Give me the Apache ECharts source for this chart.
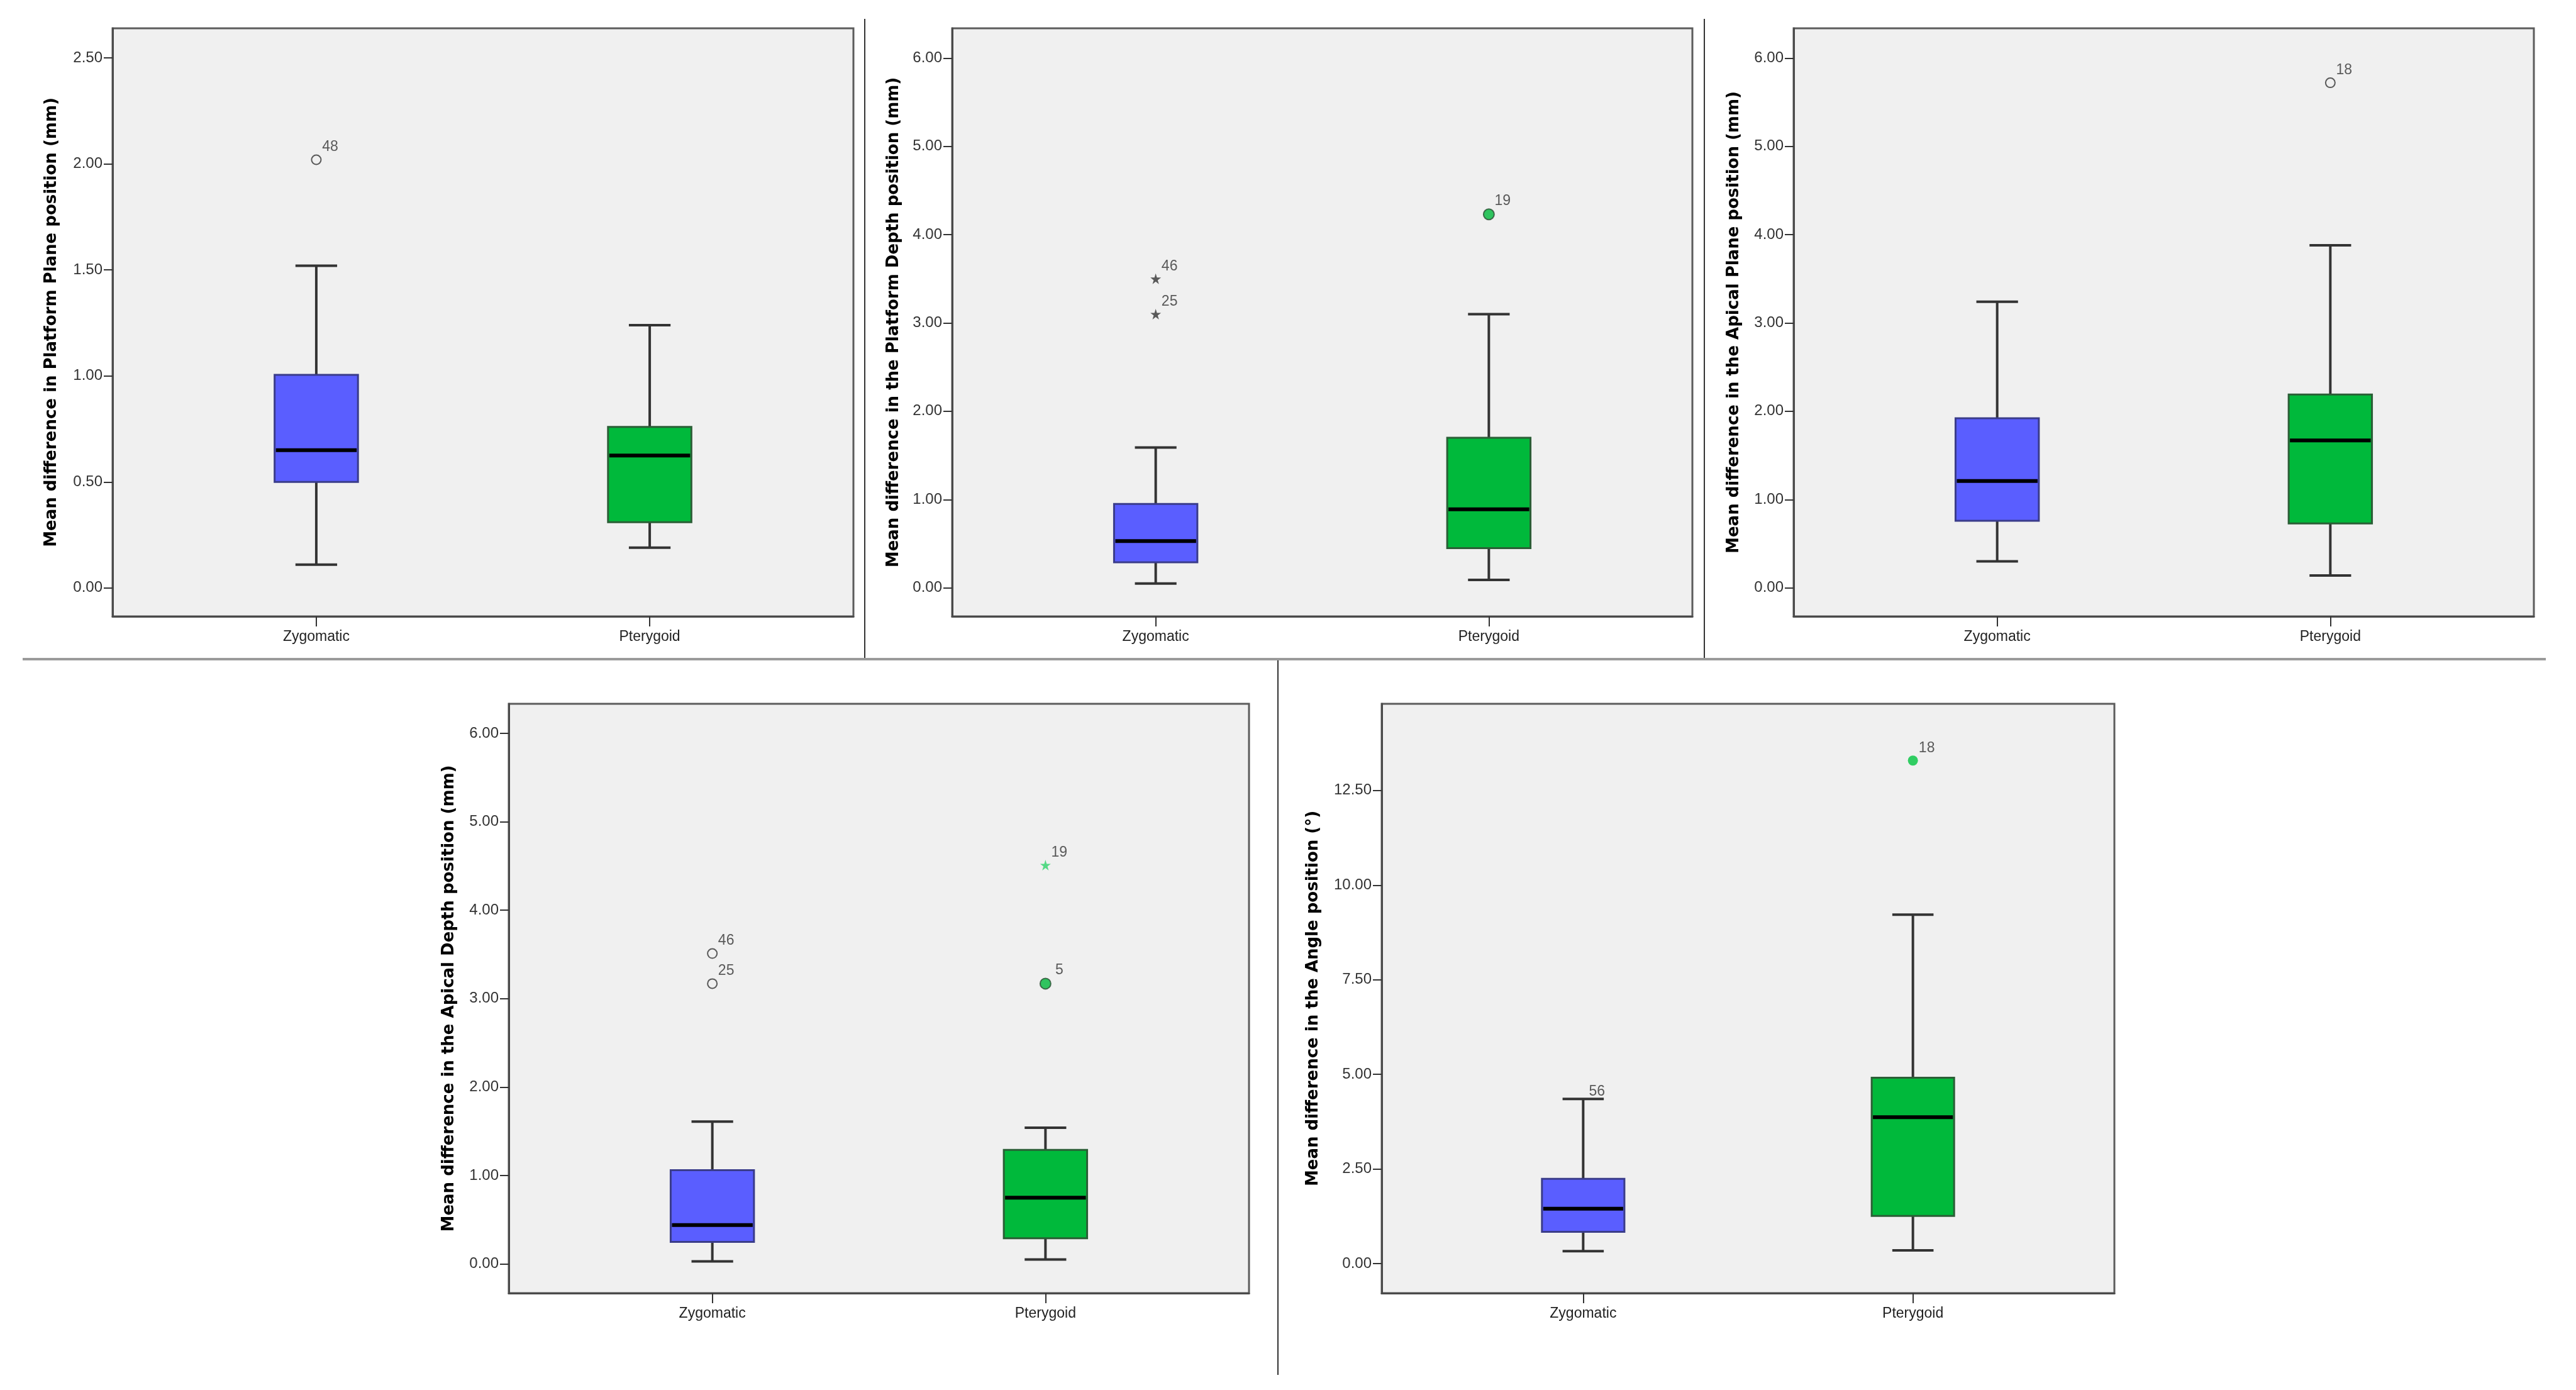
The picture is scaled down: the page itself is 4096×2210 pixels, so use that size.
<!DOCTYPE html>
<html lang="en" style="height: 100%">
<head>
  <meta charset="utf-8">
</head>
<body style="height: 100%; margin: 0; background: #fff">
  <div id="container" style="height: 100%"></div>

  <script type="text/javascript" src="https://cdn.jsdelivr.net/npm/echarts@6/dist/echarts.min.js"></script>
  <script type="text/javascript">
    // groups on the x axis
    var categories = ['Zygomatic', 'Pterygoid'];

    // five-number summaries per group: [lower whisker, Q1, median, Q3, upper whisker]
    var platformPlane = [[0.11, 0.50, 0.65, 1.005, 1.52], [0.19, 0.31, 0.625, 0.76, 1.24]];
    var platformDepth = [[0.05, 0.29, 0.53, 0.95, 1.59], [0.09, 0.45, 0.89, 1.70, 3.10]];
    var apicalPlane   = [[0.30, 0.76, 1.21, 1.92, 3.24], [0.14, 0.73, 1.67, 2.19, 3.88]];
    var apicalDepth   = [[0.03, 0.25, 0.44, 1.06, 1.61], [0.05, 0.29, 0.75, 1.29, 1.54]];
    var anglePos      = [[0.33, 0.84, 1.45, 2.24, 4.35], [0.35, 1.26, 3.87, 4.91, 9.22]];

    // outliers: [group (1 or 2), value, case label, marker kind]
    var platformPlaneOut = [[1, 2.02, '48', 'open']];
    var platformDepthOut = [[1, 3.50, '46', 'star'], [1, 3.10, '25', 'star'], [2, 4.23, '19', 'dot']];
    var apicalPlaneOut   = [[2, 5.72, '18', 'open']];
    var apicalDepthOut   = [[1, 3.51, '46', 'open'], [1, 3.17, '25', 'open'], [2, 4.51, '19', 'greenStar'], [2, 3.17, '5', 'dot']];
    var anglePosOut      = [[1, 4.35, '56', 'none'], [2, 13.29, '18', 'greenDot']];

    // y tick labels
    var ticksPlane = [0, 0.5, 1, 1.5, 2, 2.5];
    var ticksSix = [0, 1, 2, 3, 4, 5, 6];
    var ticksAngle = [0, 2.5, 5, 7.5, 10, 12.5];

    var titles = [
      'Mean difference in Platform Plane position (mm)',
      'Mean difference in the Platform Depth position (mm)',
      'Mean difference in the Apical Plane position (mm)',
      'Mean difference in the Apical Depth position (mm)',
      'Mean difference in the Angle position (°)'
    ];

    var dom = document.getElementById('container');
    var myChart = echarts.init(dom, null, { renderer: 'canvas' });

    var SANS = "'Liberation Sans', Arial, sans-serif";
    var boxFill = ['#5a5eff', '#00b93b'];
    var boxEdge = ['#3a3c8a', '#2b5e36'];
    var BOX_W = 0.25;
    var STAR = 'path://M50,0 L61,35 L98,35 L68,57 L79,91 L50,70 L21,91 L32,57 L2,35 L39,35 Z';

    var panels = [
      { box: platformPlane, out: platformPlaneOut, ticks: ticksPlane, ymin: -0.134, ymax: 2.64, grid: { left: 179, top: 45, width: 1178, height: 935 }, gap: 84 },
      { box: platformDepth, out: platformDepthOut, ticks: ticksSix, ymin: -0.323, ymax: 6.337, grid: { left: 1514, top: 45, width: 1177, height: 935 }, gap: 80 },
      { box: apicalPlane, out: apicalPlaneOut, ticks: ticksSix, ymin: -0.323, ymax: 6.337, grid: { left: 2852, top: 45, width: 1177, height: 935 }, gap: 82 },
      { box: apicalDepth, out: apicalDepthOut, ticks: ticksSix, ymin: -0.33, ymax: 6.334, grid: { left: 809, top: 1119, width: 1177, height: 937 }, gap: 82 },
      { box: anglePos, out: anglePosOut, ticks: ticksAngle, ymin: -0.78, ymax: 14.79, grid: { left: 2197, top: 1119, width: 1165, height: 937 }, gap: 96 }
    ];

    function markerItem(o) {
      var item = { value: [o[0], o[1]], name: o[2] };
      if (o[3] === 'open') {
        item.symbol = 'circle'; item.symbolSize = 15;
        item.itemStyle = { color: '#f0f0f0', borderColor: '#333', borderWidth: 2 };
      } else if (o[3] === 'star') {
        item.symbol = STAR; item.symbolSize = 17;
        item.itemStyle = { color: '#333' };
      } else if (o[3] === 'greenStar') {
        item.symbol = STAR; item.symbolSize = 17;
        item.itemStyle = { color: '#2fd36a' };
      } else if (o[3] === 'dot') {
        item.symbol = 'circle'; item.symbolSize = 17;
        item.itemStyle = { color: '#00b93b', borderColor: '#2b4f33', borderWidth: 2 };
      } else if (o[3] === 'greenDot') {
        item.symbol = 'circle'; item.symbolSize = 16;
        item.itemStyle = { color: '#00c43f' };
      } else {
        item.symbol = 'circle'; item.symbolSize = 1;
        item.itemStyle = { color: 'rgba(0,0,0,0)' };
      }
      return item;
    }

    function renderBox(params, api) {
      var x = api.value(0);
      var low = api.coord([x, api.value(1)]);
      var q1 = api.coord([x, api.value(2)]);
      var med = api.coord([x, api.value(3)]);
      var q3 = api.coord([x, api.value(4)]);
      var high = api.coord([x, api.value(5)]);
      var bw = api.size([BOX_W, 0])[0];
      var cw = bw / 2;
      var cx = med[0];
      var i = params.dataIndex;
      var line = { stroke: '#333', lineWidth: 4 };
      return {
        type: 'group',
        children: [
          { type: 'line', shape: { x1: cx, y1: low[1], x2: cx, y2: q1[1] }, style: line },
          { type: 'line', shape: { x1: cx, y1: q3[1], x2: cx, y2: high[1] }, style: line },
          { type: 'line', shape: { x1: cx - cw / 2, y1: low[1], x2: cx + cw / 2, y2: low[1] }, style: line },
          { type: 'line', shape: { x1: cx - cw / 2, y1: high[1], x2: cx + cw / 2, y2: high[1] }, style: line },
          { type: 'rect', shape: { x: cx - bw / 2, y: q3[1], width: bw, height: q1[1] - q3[1] },
            style: { fill: boxFill[i], stroke: boxEdge[i], lineWidth: 3 } },
          { type: 'line', shape: { x1: cx - bw / 2 + 2, y1: med[1], x2: cx + bw / 2 - 2, y2: med[1] },
            style: { stroke: '#000', lineWidth: 6 } }
        ]
      };
    }

    var option = {
      backgroundColor: '#fff',
      animation: false,
      grid: [], xAxis: [], yAxis: [], series: [],
      graphic: [
        { type: 'line', shape: { x1: 36, y1: 1048, x2: 4048, y2: 1048 }, style: { stroke: '#9a9a9a', lineWidth: 4 } },
        { type: 'line', shape: { x1: 1375, y1: 30, x2: 1375, y2: 1046 }, style: { stroke: '#333', lineWidth: 2 } },
        { type: 'line', shape: { x1: 2710, y1: 30, x2: 2710, y2: 1046 }, style: { stroke: '#333', lineWidth: 2 } },
        { type: 'line', shape: { x1: 2032, y1: 1050, x2: 2032, y2: 2186 }, style: { stroke: '#333', lineWidth: 2 } }
      ]
    };

    panels.forEach(function (p, k) {
      option.grid.push({
        left: p.grid.left, top: p.grid.top, width: p.grid.width, height: p.grid.height,
        show: true, backgroundColor: '#f0f0f0', borderColor: '#5c5c5c', borderWidth: 3
      });
      option.xAxis.push({
        type: 'value', gridIndex: k, min: 0.389, max: 2.611,
        axisLine: { show: true, onZero: false, lineStyle: { color: '#4a4a4a', width: 3 } },
        axisTick: { show: true, customValues: [1, 2], length: 16, lineStyle: { color: '#333', width: 2 } },
        axisLabel: {
          customValues: [1, 2], margin: 21, color: '#222', fontFamily: SANS, fontSize: 23,
          formatter: function (v) { return categories[Math.round(v) - 1]; }
        },
        splitLine: { show: false }
      });
      option.yAxis.push({
        type: 'value', gridIndex: k, min: p.ymin, max: p.ymax,
        name: titles[k], nameLocation: 'middle', nameGap: p.gap,
        nameTextStyle: { fontFamily: 'DejaVu Sans', fontWeight: 'bold', fontSize: 26, color: '#000' },
        axisLine: { show: true, lineStyle: { color: '#4a4a4a', width: 3 } },
        axisTick: { show: true, customValues: p.ticks, length: 14, lineStyle: { color: '#333', width: 2 } },
        axisLabel: {
          customValues: p.ticks, margin: 16, color: '#333', fontFamily: SANS, fontSize: 24,
          formatter: function (v) { return v.toFixed(2); }
        },
        splitLine: { show: false }
      });
      option.series.push({
        type: 'custom', xAxisIndex: k, yAxisIndex: k, clip: false,
        renderItem: renderBox,
        encode: { x: 0, y: [1, 2, 3, 4, 5] },
        data: p.box.map(function (b, j) { return [j + 1].concat(b); })
      });
      option.series.push({
        type: 'scatter', xAxisIndex: k, yAxisIndex: k, z: 5,
        data: p.out.map(markerItem),
        label: {
          show: true, position: 'top', offset: [22, 4], distance: 4,
          formatter: '{b}', color: '#333', fontFamily: SANS, fontSize: 23
        }
      });
    });

    myChart.setOption(option);
    window.addEventListener('resize', myChart.resize);
  </script>
</body>
</html>
